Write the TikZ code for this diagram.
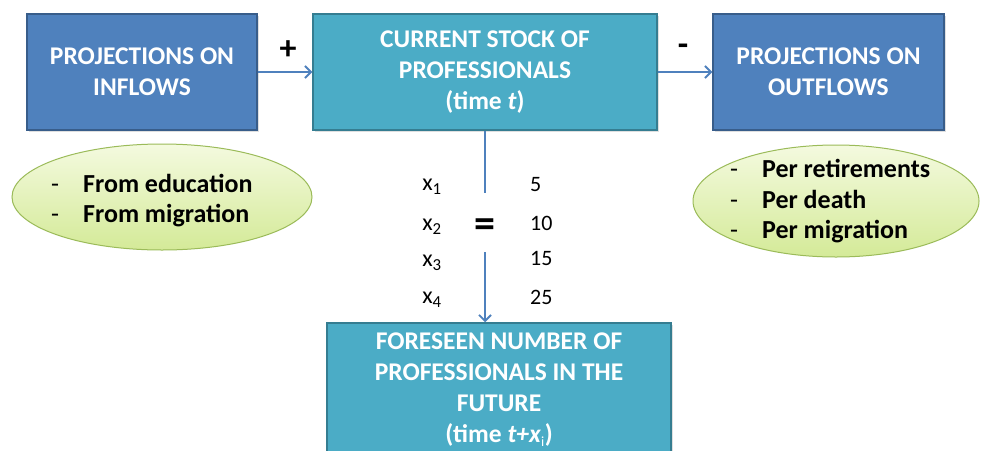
\documentclass[tikz,border=0pt]{standalone}
\usepackage{fontspec}
\setmainfont{Carlito}
\usetikzlibrary{arrows.meta,shapes.geometric,shadows}
\definecolor{boxblue}{HTML}{4F81BD}
\definecolor{boxblueline}{HTML}{385D8A}
\definecolor{boxaqua}{HTML}{4BACC6}
\definecolor{boxaqualine}{HTML}{357D91}
\definecolor{ellline}{HTML}{9BBB59}
\definecolor{elltop}{HTML}{F4FADF}
\definecolor{ellbot}{HTML}{D4EA98}
\definecolor{arrowblue}{HTML}{4F81BD}
\tikzset{
  boxbase/.style={rectangle, line width=1.5pt, text=white, align=center,
    font=\fontsize{25.5}{31}\selectfont\bfseries, inner sep=0pt,
    drop shadow={shadow xshift=1.5pt, shadow yshift=-1.5pt, opacity=0.25}},
  bluebox/.style={boxbase, fill=boxblue, draw=boxblueline},
  aquabox/.style={boxbase, fill=boxaqua, draw=boxaqualine},
  bubble/.style={ellipse, draw=ellline, line width=1pt, top color=elltop, bottom color=ellbot},
  listtext/.style={font=\fontsize{26}{31}\selectfont\bfseries, anchor=base west, inner sep=0pt},
  sign/.style={font=\fontsize{34}{34}\selectfont\bfseries, inner sep=0pt},
  eqsign/.style={font=\fontsize{42}{42}\selectfont\bfseries, inner sep=0pt},
  xlab/.style={font=\fontsize{24}{24}\selectfont, inner sep=0pt},
  numlab/.style={font=\fontsize{22}{22}\selectfont, inner sep=0pt, anchor=west},
  arr/.style={draw=arrowblue, line width=2.4pt, -{Straight Barb[length=6pt,width=12pt,line width=1.8pt]}},
  plainline/.style={draw=arrowblue, line width=2.4pt}
}
\newcommand{\listdash}{{\normalfont -}\hspace{24pt}}
\begin{document}
\begin{tikzpicture}[x=1pt,y=-1pt]
\clip (0,0) rectangle (981,450);
\fill[white] (0,0) rectangle (981,450);

\node[bluebox, minimum width=230pt, minimum height=116pt] (inflow) at (142,72) {PROJECTIONS ON\\INFLOWS};
\node[aquabox, minimum width=344pt, minimum height=116pt] (stock) at (485,72) {CURRENT STOCK OF\\PROFESSIONALS\\(time \textit{t})};
\node[bluebox, minimum width=231pt, minimum height=116pt] (outflow) at (828.5,72) {PROJECTIONS ON\\OUTFLOWS};
\node[aquabox, minimum width=344pt, minimum height=134pt] (future) at (499,390) {FORESEEN NUMBER OF\\PROFESSIONALS IN THE\\FUTURE\\(time \textit{t+x}\textsubscript{\normalfont\fontsize{14}{14}\selectfont i})};

\node[sign] (plus) at (288,50) {+};
\node[sign] (minus) at (683,50) {-};

\draw[arr] (inflow.east) -- (stock.west);
\draw[arr] (stock.east) -- (outflow.west);

\node[eqsign] (eq) at (485,228) {=};
\coordinate (eqtop) at (485,193);
\coordinate (eqbot) at (485,252);
\draw[plainline] (stock.south) -- (eqtop);
\draw[arr] (eqbot) -- (eqbot |- future.north);

\node[xlab] (x1) at (432,187) {x\textsubscript{1}};
\node[xlab] (x2) at (432,227) {x\textsubscript{2}};
\node[xlab] (x3) at (432,263) {x\textsubscript{3}};
\node[xlab] (x4) at (432,300) {x\textsubscript{4}};
\node[numlab] (n1) at (530,185) {5};
\node[numlab] (n2) at (530,223) {10};
\node[numlab] (n3) at (530,258) {15};
\node[numlab] (n4) at (530,297) {25};

\node[bubble, minimum width=300pt, minimum height=106pt] (inbubble) at (162,197) {};
\node[listtext] (inl1) at (51,192) {\listdash From education};
\node[listtext] (inl2) at (51,222) {\listdash From migration};

\node[bubble, minimum width=286pt, minimum height=112pt] (outbubble) at (836,201) {};
\node[listtext] (outl1) at (730,177) {\listdash Per retirements};
\node[listtext] (outl2) at (730,208) {\listdash Per death};
\node[listtext] (outl3) at (730,238) {\listdash Per migration};
\end{tikzpicture}
\end{document}
